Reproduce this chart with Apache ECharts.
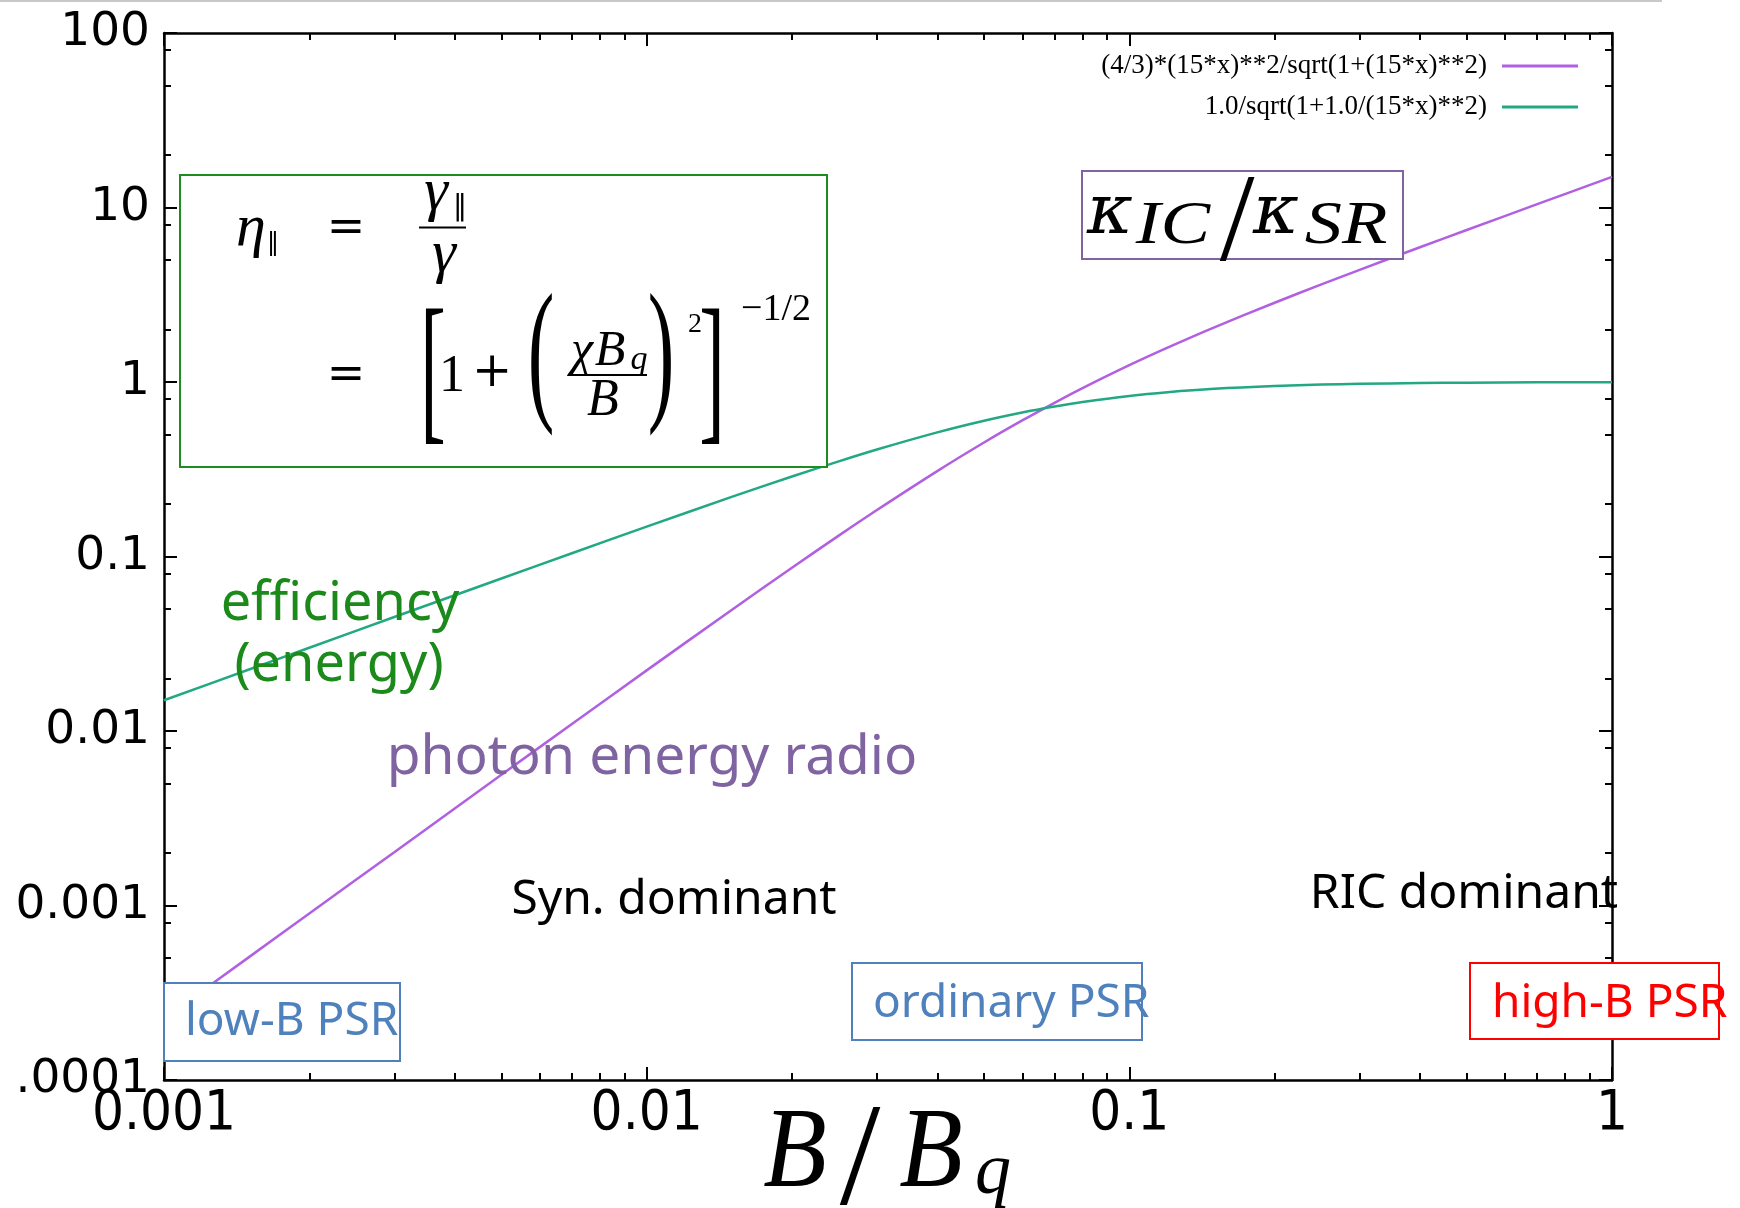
<!DOCTYPE html>
<html>
<head>
<meta charset="utf-8">
<title>kappa_IC / kappa_SR and efficiency vs B/Bq</title>
<script src="https://cdn.jsdelivr.net/npm/echarts@6/dist/echarts.min.js"></script>
<style>
  html, body { margin: 0; padding: 0; background: #fff; }
  #chart { width: 1740px; height: 1208px; }
</style>
</head>
<body>
<div id="chart"></div>
<script>
// Field strength in units of the critical field, B/Bq
const bRatio = [0.001, 0.0015, 0.002, 0.003, 0.005, 0.007, 0.01, 0.015, 0.02, 0.025,
  0.03, 0.04, 0.05, 0.06, 0.07, 0.08, 0.1, 0.12, 0.15, 0.2, 0.25, 0.3, 0.4, 0.5, 0.7, 1];

// Photon energy ratio kappa_IC / kappa_SR
const kappaRatio = [0.000225, 0.000506, 0.0009, 0.00202, 0.00561, 0.01097, 0.02225, 0.0494, 0.0862, 0.1317,
  0.1847, 0.3087, 0.45, 0.602, 0.760, 0.922, 1.248, 1.573, 2.056, 2.846, 3.623, 4.393, 5.918, 7.434, 10.45, 14.97];

// Efficiency (energy), eta_parallel
const efficiency = [0.0150, 0.0225, 0.0300, 0.0450, 0.0748, 0.1044, 0.1483, 0.2195, 0.2874, 0.3511,
  0.4104, 0.5145, 0.600, 0.669, 0.724, 0.768, 0.832, 0.874, 0.914, 0.9487, 0.9662, 0.9762, 0.9864, 0.9912, 0.9955, 0.9978];

const seriesNames = ['(4/3)*(15*x)**2/sqrt(1+(15*x)**2)', '1.0/sqrt(1+1.0/(15*x)**2)'];

// Decade tick labels, lowest exponent first
const xTickExponents = [-3, -2, -1, 0];
const xTickLabels = ['0.001', '0.01', '0.1', '1'];
const yTickExponents = [-4, -3, -2, -1, 0, 1, 2];
const yTickLabels = ['.0001', '0.001', '0.01', '0.1', '1', '10', '100'];

// Minor tick multipliers inside each decade
const xMinorFactors = [2, 3, 4, 5, 6, 7, 8, 9];
const yMinorFactors = [2, 5, 8];

const MATH = '"Liberation Serif", "DejaVu Serif", serif';
const SANS = '"Noto Sans", "DejaVu Sans", sans-serif';
const INK = '#000';
const PURPLE_LINE = '#b060e0';
const GREEN_LINE = '#22a882';

function minorLogs(lo, hi, factors) {
  const out = [];
  for (let e = lo; e < hi; e++) {
    factors.forEach(f => out.push(e + Math.log10(f)));
  }
  return out;
}

function labelFor(exps, labels) {
  return v => {
    const e = Math.round(Math.log10(v));
    const i = exps.indexOf(e);
    return i >= 0 ? labels[i] : '';
  };
}

// Text element centred at (cx, cy) of its em box, with optional stretch
function glyph(str, cx, cy, size, opt) {
  opt = opt || {};
  return {
    type: 'text', x: cx, y: cy, z: 120, silent: true,
    scaleX: opt.sx || 1, scaleY: opt.sy || 1,
    style: {
      text: str, x: 0, y: 0,
      fill: opt.color || INK,
      fontSize: size,
      fontFamily: opt.family || MATH,
      fontStyle: opt.italic ? 'italic' : 'normal',
      align: opt.align || 'center', textAlign: opt.align || 'center',
      verticalAlign: 'middle', textVerticalAlign: 'middle'
    }
  };
}

function box(x, y, w, h, color) {
  return {
    type: 'rect', z: 100, silent: true,
    shape: { x: x, y: y, width: w, height: h },
    style: { fill: '#fff', stroke: color, lineWidth: 2 }
  };
}

function rule(x1, y1, x2, y2, color, w) {
  return {
    type: 'line', z: 120, silent: true,
    shape: { x1: x1, y1: y1, x2: x2, y2: y2 },
    style: { stroke: color || INK, lineWidth: w || 2 }
  };
}

const tickStyle = { color: INK, width: 2 };
const frameLine = { show: true, onZero: false, lineStyle: { color: INK, width: 2.5 } };
const noLine = { show: false, onZero: false };

function minorAxis(min, max, position, values) {
  return {
    type: 'value', min: min, max: max, position: position,
    axisLine: noLine, axisLabel: { show: false }, splitLine: { show: false },
    axisTick: { show: true, inside: true, length: 7, lineStyle: tickStyle, customValues: values }
  };
}

const chart = echarts.init(document.getElementById('chart'), null, { renderer: 'canvas' });

chart.setOption({
  backgroundColor: '#fff',
  animation: false,
  grid: { left: 164, right: 128, top: 33, bottom: 128, outerBoundsMode: 'none' },
  legend: {
    orient: 'vertical', right: 162, top: 52, align: 'right', padding: 0,
    itemWidth: 76, itemHeight: 3, itemGap: 13, icon: 'rect', selectedMode: false,
    data: seriesNames,
    textStyle: { fontFamily: MATH, fontSize: 27, color: INK, lineHeight: 28, padding: [0, 10, 0, 0] }
  },
  xAxis: [
    {
      type: 'log', logBase: 10, min: 0.001, max: 1, position: 'bottom',
      axisLine: frameLine,
      axisTick: { show: true, inside: true, length: 13, lineStyle: tickStyle },
      axisLabel: {
        show: true, margin: 6, color: INK, fontSize: 56,
        fontFamily: '"Liberation Sans Narrow", "DejaVu Sans Condensed", sans-serif',
        formatter: labelFor(xTickExponents, xTickLabels)
      },
      splitLine: { show: false }
    },
    {
      type: 'log', logBase: 10, min: 0.001, max: 1, position: 'top',
      axisLine: frameLine,
      axisTick: { show: true, inside: true, length: 13, lineStyle: tickStyle },
      axisLabel: { show: false }, splitLine: { show: false }
    },
    minorAxis(-3, 0, 'bottom', minorLogs(-3, 0, xMinorFactors)),
    minorAxis(-3, 0, 'top', minorLogs(-3, 0, xMinorFactors))
  ],
  yAxis: [
    {
      type: 'log', logBase: 10, min: 0.0001, max: 100, position: 'left',
      axisLine: frameLine,
      axisTick: { show: true, inside: true, length: 13, lineStyle: tickStyle },
      axisLabel: {
        show: true, margin: 14, color: INK, fontSize: 47,
        fontFamily: '"DejaVu Sans", sans-serif',
        formatter: labelFor(yTickExponents, yTickLabels)
      },
      splitLine: { show: false }
    },
    {
      type: 'log', logBase: 10, min: 0.0001, max: 100, position: 'right',
      axisLine: frameLine,
      axisTick: { show: true, inside: true, length: 13, lineStyle: tickStyle },
      axisLabel: { show: false }, splitLine: { show: false }
    },
    minorAxis(-4, 2, 'left', minorLogs(-4, 2, yMinorFactors)),
    minorAxis(-4, 2, 'right', minorLogs(-4, 2, yMinorFactors))
  ],
  series: [
    {
      name: seriesNames[0], type: 'line', xAxisIndex: 0, yAxisIndex: 0,
      data: bRatio.map((b, i) => [b, kappaRatio[i]]),
      symbol: 'none', smooth: 0.3, z: 3,
      lineStyle: { color: PURPLE_LINE, width: 2.5 }, itemStyle: { color: PURPLE_LINE }
    },
    {
      name: seriesNames[1], type: 'line', xAxisIndex: 0, yAxisIndex: 0,
      data: bRatio.map((b, i) => [b, efficiency[i]]),
      symbol: 'none', smooth: 0.3, z: 3,
      lineStyle: { color: GREEN_LINE, width: 2.5 }, itemStyle: { color: GREEN_LINE }
    }
  ],
  graphic: [
    // thin rule along the top edge
    rule(0, 1, 1662, 1, '#c8c8c8', 2),

    // eta_parallel definition
    box(180, 175, 647, 292, '#1e8c1e'),
    glyph('η', 251, 229, 60, { italic: true }),
    glyph('‖', 273, 244, 24, { family: '"DejaVu Sans", sans-serif' }),
    glyph('=', 346, 229, 46, { family: '"DejaVu Serif", serif' }),
    glyph('γ', 436, 193, 60, { italic: true }),
    glyph('‖', 460, 208, 28, { family: '"DejaVu Sans", sans-serif' }),
    rule(419, 227.5, 466, 227.5, INK, 2),
    glyph('γ', 444, 255, 60, { italic: true }),
    glyph('=', 346, 376, 46, { family: '"DejaVu Serif", serif' }),
    glyph('[', 433, 379, 96, { sx: 0.8, sy: 1.7 }),
    glyph('1', 452, 377, 52),
    glyph('+', 492, 374, 48, { family: '"DejaVu Serif", serif' }),
    glyph('(', 541, 361, 80, { sy: 1.95 }),
    glyph('χ', 582, 352, 50, { italic: true }),
    glyph('B', 610, 352, 50, { italic: true }),
    glyph('q', 639, 360, 34, { italic: true }),
    rule(571, 375, 647, 375, INK, 2),
    glyph('B', 603, 401, 52, { italic: true }),
    glyph(')', 661, 361, 80, { sy: 1.95 }),
    glyph('2', 695, 325, 28),
    glyph(']', 712, 379, 96, { sx: 0.8, sy: 1.7 }),
    glyph('−1/2', 776, 310, 38),

    // kappa_IC / kappa_SR label
    box(1082, 171, 321, 88, '#8064a2'),
    glyph('κ', 1110, 215, 70, { italic: true, family: '"DejaVu Serif", serif' }),
    glyph('IC', 1173, 227, 62, { italic: true, sx: 1.2 }),
    glyph('/', 1237, 227, 125),
    glyph('κ', 1276, 215, 70, { italic: true, family: '"DejaVu Serif", serif' }),
    glyph('SR', 1346, 227, 62, { italic: true, sx: 1.2 }),

    // curve and regime annotations
    glyph('efficiency', 340, 605, 54, { family: SANS, color: '#1b8a1b' }),
    glyph('(energy)', 339, 666, 54, { family: SANS, color: '#1b8a1b' }),
    glyph('photon energy radio', 652, 758, 55, { family: SANS, color: '#8064a2' }),
    glyph('Syn. dominant', 674, 900, 48, { family: SANS }),
    glyph('RIC dominant', 1464, 894, 48, { family: SANS }),

    // pulsar classes
    box(164, 983, 236, 78, '#4f81bd'),
    glyph('low-B PSR', 185, 1022, 46, { family: SANS, color: '#4f81bd', align: 'left' }),
    box(852, 963, 290, 77, '#4f81bd'),
    glyph('ordinary PSR', 873, 1004, 46, { family: SANS, color: '#4f81bd', align: 'left' }),
    box(1470, 963, 249, 76, '#ff0000'),
    glyph('high-B PSR', 1492, 1004, 46, { family: SANS, color: '#ff0000', align: 'left' }),

    // horizontal axis title B / B_q
    glyph('B', 795, 1156, 104, { italic: true, sy: 1.1 }),
    glyph('/', 860, 1166, 146),
    glyph('B', 931, 1156, 104, { italic: true, sy: 1.1 }),
    glyph('q', 993, 1174, 72, { italic: true })
  ]
});
</script>
</body>
</html>
